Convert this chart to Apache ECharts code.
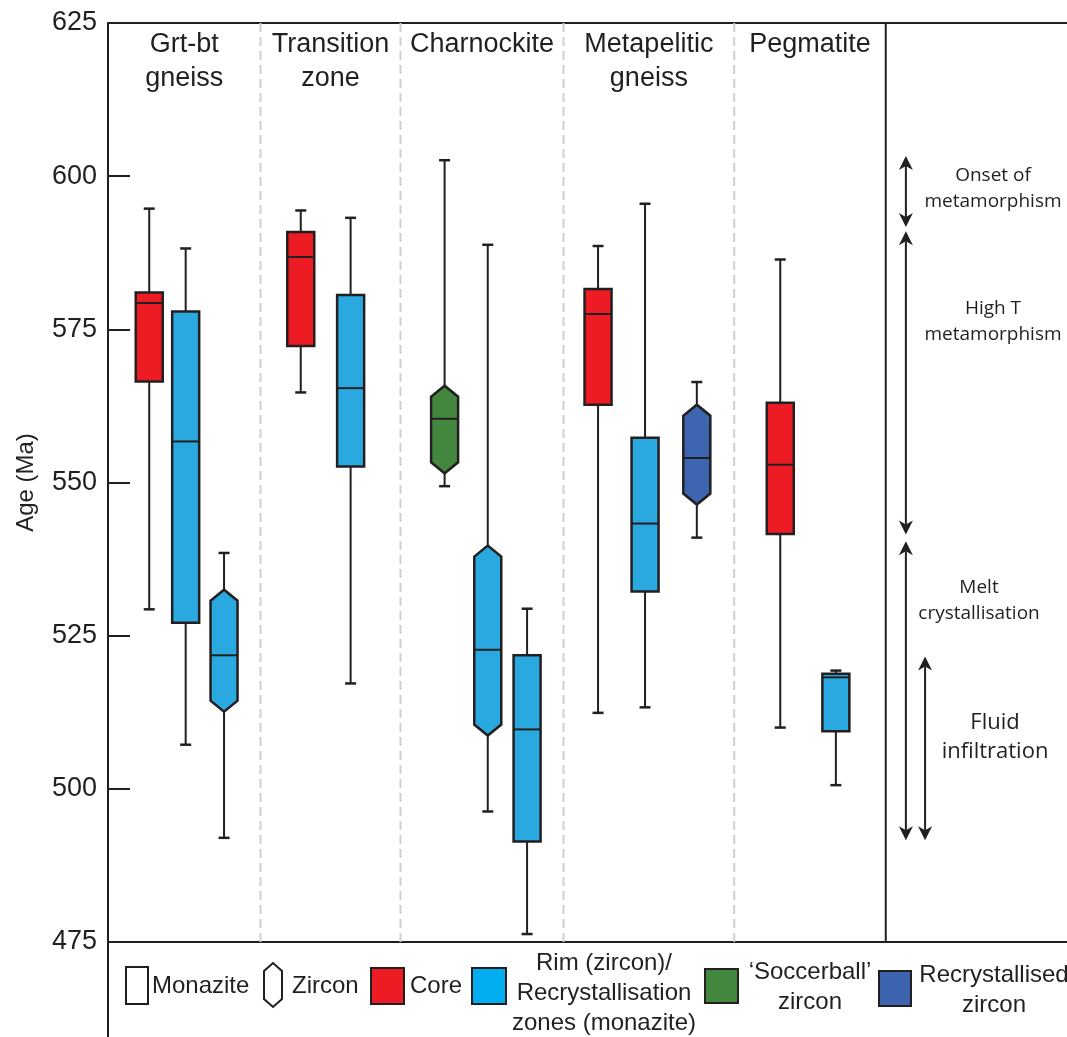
<!DOCTYPE html>
<html>
<head>
<meta charset="utf-8">
<script src="https://cdn.jsdelivr.net/npm/echarts@6/dist/echarts.min.js"></script>
<style>
html, body { margin: 0; padding: 0; background: #fff; }
#chart { width: 1067px; height: 1037px; }
</style>
</head>
<body>
<div id="chart"></div>
<script>
/* sections along the x axis (axis runs 0-100) */
var sectionNames = ['Grt-bt\ngneiss', 'Transition\nzone', 'Charnockite', 'Metapelitic\ngneiss', 'Pegmatite'];
var sectionEdges = [0, 15.9, 30.5, 47.5, 65.3, 81.1];

/* one entry per box: x position, whisker min, q1, median, q3, whisker max (Ma) */
var boxPos     = [4.3, 8.1, 12.1, 20.1, 25.3, 35.1, 39.6, 43.7, 51.1, 56.0, 61.4, 70.1, 75.9];
var boxMin     = [529.3, 507.2, 492.0, 564.7, 517.2, 549.4, 496.3, 476.3, 512.4, 513.3, 541.0, 510.0, 500.6];
var boxQ1      = [566.5, 527.1, 512.6, 572.3, 552.6, 551.5, 508.7, 491.4, 562.7, 532.2, 546.4, 541.6, 509.4];
var boxMedian  = [579.3, 556.7, 521.8, 586.8, 565.4, 560.4, 522.7, 509.7, 577.5, 543.3, 554.0, 552.9, 518.2];
var boxQ3      = [581.0, 577.9, 532.5, 590.9, 580.6, 565.8, 539.7, 521.8, 581.6, 557.3, 562.7, 563.0, 518.8];
var boxMax     = [594.7, 588.2, 538.5, 594.4, 593.2, 602.6, 588.8, 529.4, 588.6, 595.5, 566.4, 586.4, 519.3];
var boxMineral = ['monazite', 'monazite', 'zircon', 'monazite', 'monazite', 'zircon', 'zircon', 'monazite', 'monazite', 'monazite', 'zircon', 'monazite', 'monazite'];
var boxDomain  = ['core', 'rim', 'rim', 'core', 'rim', 'soccerball', 'rim', 'rim', 'core', 'rim', 'recryst', 'core', 'rim'];

/* interpreted stages (double arrows on the right) */
var stageNames = ['Onset of\nmetamorphism', 'High T\nmetamorphism', 'Melt\ncrystallisation', 'Fluid\ninfiltration'];
var stageFrom  = [603.3, 591.0, 540.4, 521.6];
var stageTo    = [591.7, 541.5, 491.6, 491.6];
var stageLane  = [83.2, 83.2, 83.2, 85.2];

var yTicks = [475, 500, 525, 550, 575, 600, 625];

var INK = '#231F20';
var FONT = '"Liberation Sans", Arial, sans-serif';
var domainColor = { core: '#ED1C24', rim: '#29A9E0', soccerball: '#43873F', recryst: '#3E66B0' };
var BOX_W = 27, CAP_W = 11, TIP = 11;

var chart = echarts.init(document.getElementById('chart'));

function hexPoints(x, yTop, yBot, half, tip) {
    return [[x - half, yTop + tip], [x, yTop], [x + half, yTop + tip],
            [x + half, yBot - tip], [x, yBot], [x - half, yBot - tip]];
}

function renderSection(params, api) {
    var i = params.dataIndex;
    var cs = params.coordSys;
    var xs = api.coord([api.value(0), 0])[0];
    var xe = api.coord([api.value(1), 0])[0];
    var last = i == sectionNames.length - 1;
    return {
        type: 'group',
        children: [
            {
                type: 'line',
                shape: { x1: xe, y1: cs.y, x2: xe, y2: cs.y + cs.height },
                style: last ? { stroke: INK, lineWidth: 2 } : { stroke: '#cfcfcf', lineWidth: 2, lineDash: [9, 5] }
            },
            {
                type: 'text',
                x: (xs + xe) / 2, y: cs.y + 5,
                style: { text: sectionNames[i], font: '27px ' + FONT, fill: INK, align: 'center', verticalAlign: 'top', lineHeight: 34 }
            }
        ]
    };
}

function renderBox(params, api) {
    var i = params.dataIndex;
    var x = api.coord([api.value(0), 0])[0];
    var yMin = api.coord([0, api.value(1)])[1];
    var yQ1 = api.coord([0, api.value(2)])[1];
    var yMed = api.coord([0, api.value(3)])[1];
    var yQ3 = api.coord([0, api.value(4)])[1];
    var yMax = api.coord([0, api.value(5)])[1];
    var half = BOX_W / 2;
    var fill = domainColor[boxDomain[i]];
    var kids = [
        { type: 'line', shape: { x1: x, y1: yMax, x2: x, y2: yMin }, style: { stroke: INK, lineWidth: 2 } },
        { type: 'line', shape: { x1: x - CAP_W / 2, y1: yMax, x2: x + CAP_W / 2, y2: yMax }, style: { stroke: INK, lineWidth: 2.5 } },
        { type: 'line', shape: { x1: x - CAP_W / 2, y1: yMin, x2: x + CAP_W / 2, y2: yMin }, style: { stroke: INK, lineWidth: 2.5 } }
    ];
    if (boxMineral[i] == 'zircon') {
        kids.push({ type: 'polygon', shape: { points: hexPoints(x, yQ3, yQ1, half, TIP) }, style: { fill: fill, stroke: INK, lineWidth: 2.5 } });
    } else {
        kids.push({ type: 'rect', shape: { x: x - half, y: yQ3, width: BOX_W, height: yQ1 - yQ3 }, style: { fill: fill, stroke: INK, lineWidth: 2.5 } });
    }
    kids.push({ type: 'line', shape: { x1: x - half, y1: yMed, x2: x + half, y2: yMed }, style: { stroke: INK, lineWidth: 2 } });
    return { type: 'group', children: kids };
}

function renderArrow(params, api) {
    var x = api.coord([api.value(0), 0])[0];
    var yTop = api.coord([0, api.value(1)])[1];
    var yBot = api.coord([0, api.value(2)])[1];
    var hw = 7, hl = 12;
    return {
        type: 'group',
        children: [
            { type: 'line', shape: { x1: x, y1: yTop + hl - 2, x2: x, y2: yBot - hl + 2 }, style: { stroke: INK, lineWidth: 2 } },
            { type: 'polygon', shape: { points: [[x, yTop], [x - hw, yTop + hl + 2], [x, yTop + hl - 2], [x + hw, yTop + hl + 2]] }, style: { fill: INK } },
            { type: 'polygon', shape: { points: [[x, yBot], [x - hw, yBot - hl - 2], [x, yBot - hl + 2], [x + hw, yBot - hl - 2]] }, style: { fill: INK } }
        ]
    };
}

var sectionData = sectionNames.map(function (n, i) { return [sectionEdges[i], sectionEdges[i + 1]]; });
var boxData = boxPos.map(function (p, i) { return [p, boxMin[i], boxQ1[i], boxMedian[i], boxQ3[i], boxMax[i]]; });
var arrowData = stageNames.map(function (n, i) { return [stageLane[i], stageFrom[i], stageTo[i]]; });

/* legend and annotation texts */
function legendSwatch(x, y, w, h, fill) {
    return { type: 'rect', shape: { x: x, y: y, width: w, height: h }, style: { fill: fill, stroke: INK, lineWidth: 2 } };
}
function legendText(x, y, text, align) {
    return { type: 'text', x: x, y: y, style: { text: text, font: '24px ' + FONT, fill: INK, align: align || 'left', verticalAlign: 'middle', lineHeight: 30 } };
}
function noteText(x, y, text, size) {
    return { type: 'text', x: x, y: y, style: { text: text, font: size + 'px "Open Sans", sans-serif', fill: INK, align: 'center', verticalAlign: 'middle', lineHeight: size + 7 } };
}

var graphics = [
    { type: 'line', shape: { x1: 108, y1: 941, x2: 108, y2: 1037 }, style: { stroke: INK, lineWidth: 2 } },
    legendSwatch(126, 967, 22, 37, 'none'),
    legendText(152, 986, 'Monazite'),
    { type: 'polygon', shape: { points: hexPoints(273, 963, 1007, 9, 8) }, style: { fill: 'none', stroke: INK, lineWidth: 2 } },
    legendText(292, 986, 'Zircon'),
    legendSwatch(371, 968, 33, 36, '#ED1C24'),
    legendText(410, 986, 'Core'),
    legendSwatch(472, 968, 34, 36, '#00AEEF'),
    legendText(604, 993, 'Rim (zircon)/\nRecrystallisation\nzones (monazite)', 'center'),
    legendSwatch(705, 969, 33, 34, '#43873F'),
    legendText(810, 987, '\u2018Soccerball\u2019\nzircon', 'center'),
    legendSwatch(879, 971, 32, 35, '#3D64AF'),
    legendText(994, 990, 'Recrystallised\nzircon', 'center'),
    noteText(993, 189, stageNames[0], 19),
    noteText(993, 322, stageNames[1], 19),
    noteText(979, 601, stageNames[2], 19),
    noteText(995, 737, stageNames[3], 22)
];

var option = {
    animation: false,
    backgroundColor: '#fff',
    tooltip: { show: false },
    grid: { left: 108, right: 0, top: 23, bottom: 95, containLabel: false },
    xAxis: [
        { type: 'value', min: 0, max: 100, position: 'bottom',
          axisLine: { show: true, onZero: false, lineStyle: { color: INK, width: 2 } },
          axisTick: { show: false }, axisLabel: { show: false }, splitLine: { show: false } },
        { type: 'value', min: 0, max: 100, position: 'top',
          axisLine: { show: true, onZero: false, lineStyle: { color: INK, width: 2 } },
          axisTick: { show: false }, axisLabel: { show: false }, splitLine: { show: false } }
    ],
    yAxis: {
        type: 'value', min: yTicks[0], max: yTicks[yTicks.length - 1], interval: 25,
        axisLine: { show: true, lineStyle: { color: INK, width: 2 } },
        axisTick: { show: true, inside: true, length: 22, lineStyle: { color: INK, width: 2 } },
        axisLabel: { color: INK, fontSize: 27, fontFamily: FONT, margin: 11 },
        splitLine: { show: false },
        name: 'Age (Ma)', nameLocation: 'middle', nameGap: 70,
        nameTextStyle: { color: INK, fontSize: 24, fontFamily: FONT }
    },
    graphic: graphics,
    series: [
        { type: 'custom', name: 'sections', renderItem: renderSection, data: sectionData, encode: { x: [0, 1] }, silent: true },
        { type: 'custom', name: 'ages', renderItem: renderBox, data: boxData, encode: { x: 0, y: [1, 2, 3, 4, 5] }, silent: true },
        { type: 'custom', name: 'stages', renderItem: renderArrow, data: arrowData, encode: { x: 0, y: [1, 2] }, silent: true }
    ]
};
chart.setOption(option);
</script>
</body>
</html>
